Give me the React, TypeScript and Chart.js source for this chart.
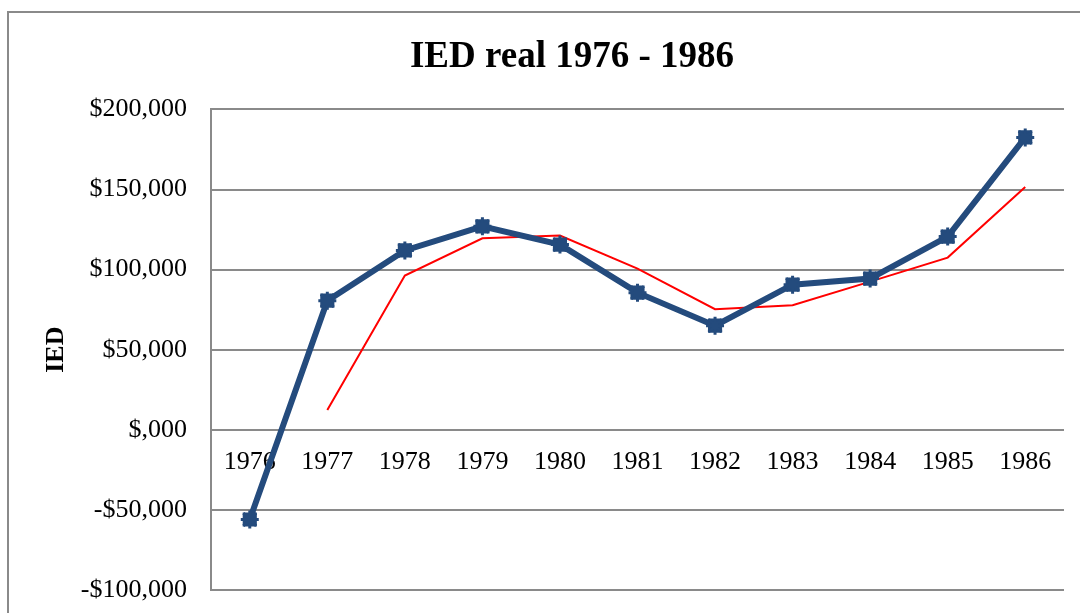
import React, { useEffect, useRef } from "react";
import { Chart, registerables } from "chart.js";

Chart.register(...registerables);

const years = ["1976", "1977", "1978", "1979", "1980", "1981", "1982", "1983", "1984", "1985", "1986"];
const iedReal = [-56000, 80600, 112000, 127000, 115600, 85600, 65000, 90600, 94400, 120600, 182500];
const movingAvg = [null, 12300, 96300, 119500, 121300, 100600, 75300, 77800, 92500, 107500, 151500];
const chartTitle = "IED real 1976 - 1986";
const yAxisTitle = "IED";

const FONT = "'Liberation Serif', 'Times New Roman', serif";
const GRID = "#8a8a8a";
const BLUE = "#244b7d";

function formatMoney(v: number): string {
  const k = Math.abs(v) / 1000;
  const s = "$" + (k === 0 ? "" : String(k)) + ",000";
  return v < 0 ? "-" + s : s;
}

export default function App() {
  const ref = useRef<HTMLCanvasElement | null>(null);

  useEffect(() => {
    if (!ref.current) return;
    const chart = new Chart(ref.current, {
      type: "line",
      data: {
        labels: years,
        datasets: [
          {
            label: "IED real",
            data: iedReal,
            borderColor: BLUE,
            backgroundColor: BLUE,
            borderWidth: 6,
            pointStyle: "rect",
            pointRadius: 10,
            pointBorderWidth: 0,
            tension: 0,
            fill: false,
            order: 1,
          },
          {
            label: "IED real marker",
            data: iedReal,
            showLine: false,
            borderColor: BLUE,
            backgroundColor: BLUE,
            pointStyle: "star",
            pointRadius: 9,
            pointBorderWidth: 3,
            order: 0,
          },
          {
            label: "Media móvil",
            data: movingAvg,
            borderColor: "#ff0000",
            backgroundColor: "#ff0000",
            borderWidth: 2,
            pointRadius: 0,
            tension: 0,
            fill: false,
            spanGaps: false,
            order: 2,
          },
        ],
      },
      options: {
        responsive: false,
        animation: false,
        layout: { padding: { left: 0, right: 0, top: 0, bottom: 23 } },
        plugins: {
          legend: { display: false },
          tooltip: { enabled: false },
          title: {
            display: true,
            text: chartTitle,
            color: "#000",
            font: { family: FONT, size: 37, weight: "bold" },
            padding: { top: 35, bottom: 30 },
          },
        },
        scales: {
          x: {
            type: "category",
            offset: true,
            position: { y: 0 } as any,
            afterFit: (scale: any) => {
              scale.height = 0;
            },
            grid: { display: false, drawTicks: false },
            border: { display: false },
            ticks: {
              color: "#000",
              font: { family: FONT, size: 26 },
              padding: 17,
              maxRotation: 0,
              autoSkip: false,
            },
          },
          y: {
            min: -100000,
            max: 200000,
            afterFit: (scale: any) => {
              scale.width = 211;
              scale.paddingTop = 16;
              scale.paddingBottom = 16;
            },
            grid: { color: GRID, lineWidth: 2, drawTicks: false },
            border: { display: true, color: GRID, width: 2 },
            title: {
              display: true,
              text: yAxisTitle,
              color: "#000",
              font: { family: FONT, size: 26, weight: "bold" },
              padding: { top: 41, bottom: 0 },
            },
            ticks: {
              stepSize: 50000,
              color: "#000",
              font: { family: FONT, size: 26 },
              padding: 24,
              callback: (v: any) => formatMoney(Number(v)),
            },
          },
          y2: {
            type: "linear",
            position: "right",
            min: -100000,
            max: 200000,
            afterFit: (scale: any) => {
              scale.width = 80;
              scale.paddingTop = 0;
              scale.paddingBottom = 0;
            },
            grid: { display: false, drawTicks: false },
            border: { display: false },
            ticks: { display: false },
          },
        },
      },
    });
    return () => chart.destroy();
  }, []);

  return (
    <div
      style={{
        position: "absolute",
        left: 0,
        top: 0,
        width: 1080,
        height: 613,
        overflow: "hidden",
        background: "#fff",
      }}
    >
      <div
        style={{
          position: "absolute",
          left: 7,
          top: 11,
          width: 1200,
          height: 700,
          border: "2px solid #8a8a8a",
          boxSizing: "border-box",
        }}
      />
      <canvas
        ref={ref}
        width={1144}
        height={613}
        style={{ position: "absolute", left: 0, top: 0, width: 1144, height: 613 }}
      />
    </div>
  );
}
